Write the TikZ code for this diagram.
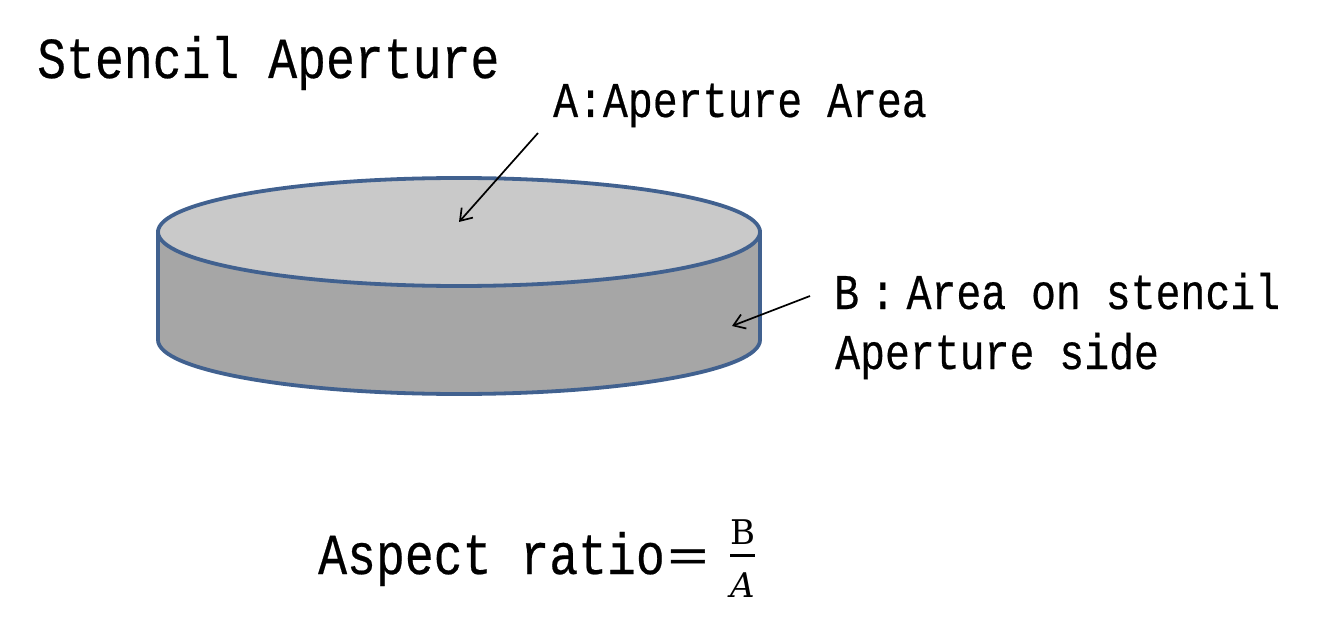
\documentclass[tikz,border=0pt]{standalone}
\usepackage{amsmath}
\usepackage{fontspec}
\usepackage{xcolor}
\usetikzlibrary{arrows.meta}
\newfontfamily\gothicfont[FakeStretch=0.83, FakeBold=0.4]{Liberation Mono}
\newfontfamily\cjkfont[FakeBold=1]{Noto Sans CJK JP}
\newfontfamily\fracfont{DejaVu Serif}
\definecolor{apertureedge}{RGB}{65, 97, 143}
\definecolor{aperturetop}{RGB}{201, 201, 201}
\definecolor{apertureside}{RGB}{166, 166, 166}

\begin{document}
\begin{tikzpicture}[x=1pt, y=-1pt]
    % Styles
    \tikzstyle{bigtext} = [anchor=base west, inner sep=0pt, font=\fontsize{58}{58}\gothicfont]
    \tikzstyle{label} = [anchor=base west, inner sep=0pt, font=\fontsize{50}{50}\gothicfont]
    \tikzstyle{wall} = [draw=apertureedge, line width=3.8pt, fill=apertureside]
    \tikzstyle{lid} = [draw=apertureedge, line width=3.8pt, fill=aperturetop]
    \tikzstyle{arrow} = [line width=1.7pt, -{Straight Barb[length=11pt, width=15pt]}]

    \useasboundingbox (0,0) rectangle (1340,620);

    % Cylinder
    \draw [wall] (158,232) -- (158,340) arc[start angle=180, end angle=360, x radius=301, y radius=-54] -- (760,232) -- cycle;
    \draw [lid] (459,232) ellipse [x radius=301, y radius=54];

    % Nodes
    \node [bigtext] (title) at (37,78) {Stencil Aperture};
    \node [label] (areaA) at (553,117) {A:Aperture Area};
    \node [label] (areaB) at (834,309) {B\makebox[47.5pt][c]{:}Area on stencil};
    \node [label] (sideB) at (835,369) {Aperture side};
    \node [bigtext] (ratio) at (318,574) {Aspect ratio{\fontsize{46}{46}\cjkfont ＝}};
    \node [inner sep=0pt, font=\fontsize{34}{34}\fracfont] (frac) at (742.5,558.5) {$\genfrac{}{}{3.2pt}{0}{\mbox{B}}{\rule{0pt}{30pt}\mbox{\itshape A}}$};

    % Arrows
    \coordinate (startA) at (538,133);
    \coordinate (tipA) at (459,222);
    \coordinate (startB) at (810,296);
    \coordinate (tipB) at (732,326);
    \draw [arrow] (startA) -- (tipA);
    \draw [arrow] (startB) -- (tipB);
\end{tikzpicture}
\end{document}
